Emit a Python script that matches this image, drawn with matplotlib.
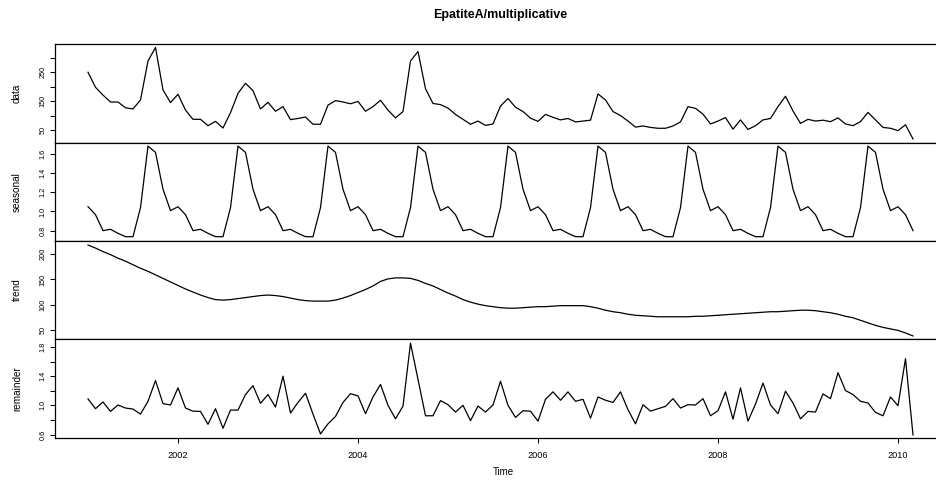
import numpy as np
import matplotlib
matplotlib.use("Agg")
import matplotlib.pyplot as plt

plt.rcParams['font.family'] = ['Liberation Sans', 'DejaVu Sans']

# monthly series, Jan 2001 - Mar 2010
start_year = 2001
n_months = 111

data = [250, 198, 171, 147, 147, 127, 123, 154, 289, 336, 189, 145,
        174, 119, 87, 87, 65, 80, 57, 110, 177, 212, 186, 123,
        146, 115, 131, 86, 90, 95, 70, 70, 136, 152, 147, 141,
        149, 115, 131, 153, 119, 92, 114, 289, 322, 193, 142, 138,
        126, 104, 87, 70, 81, 66, 71, 133, 159, 129, 114, 91,
        80, 104, 94, 85, 90, 78, 81, 84, 175, 154, 114, 100,
        81, 60, 64, 59, 56, 56, 64, 78, 131, 125, 105, 71,
        81, 93, 53, 85, 52, 65, 85, 90, 131, 167, 116, 73,
        87, 81, 84, 79, 92, 71, 65, 79, 111, 85, 59, 56,
        48, 68, 19]

# seasonal factors Jan..Dec (same every year)
season_pattern = [1.05, 0.967, 0.80, 0.814, 0.772, 0.737,
                  0.737, 1.04, 1.683, 1.617, 1.232, 1.009]

trend = [218, 212, 205, 199, 192, 186, 179, 172, 166, 159, 152, 145,
         138, 131, 125, 119, 114, 110, 109, 110, 112, 114, 116, 118,
         119, 118, 116, 113, 110, 108, 107, 107, 107, 109, 113, 118,
         124, 130, 137, 146, 151, 153, 153, 152, 148, 142, 137, 130,
         123, 117, 110, 105, 101, 98, 96, 94, 93, 93, 94, 95,
         96, 96, 97, 98, 98, 98, 98, 96, 93, 89, 86, 84,
         81, 79, 78, 77, 76, 76, 76, 76, 76, 77, 77, 78,
         79, 80, 81, 82, 83, 84, 85, 86, 86, 87, 88, 89,
         89, 88, 86, 84, 81, 77, 74, 69, 64, 59, 55, 52,
         49, 44, 38]

remainder = [1.088, 0.954, 1.046, 0.917, 1.005, 0.963, 0.949, 0.88, 1.055, 1.34, 1.023, 1.005,
             1.24, 0.963, 0.92, 0.917, 0.74, 0.954, 0.686, 0.935, 0.935, 1.148, 1.27, 1.028,
             1.148, 0.977, 1.40, 0.894, 1.04, 1.166, 0.88, 0.608, 0.746, 0.848, 1.04, 1.16,
             1.13, 0.885, 1.115, 1.286, 1.0, 0.815, 0.99, 1.854, 1.355, 0.857, 0.857, 1.065,
             1.009, 0.908, 1.0, 0.79, 0.99, 0.908, 1.005, 1.33, 1.0, 0.834, 0.926, 0.92,
             0.783, 1.083, 1.185, 1.07, 1.185, 1.055, 1.083, 0.825, 1.115, 1.07, 1.04, 1.185,
             0.94, 0.746, 1.009, 0.92, 0.954, 0.986, 1.092, 0.963, 1.009, 1.005, 1.092, 0.857,
             0.926, 1.185, 0.81, 1.24, 0.783, 1.018, 1.305, 1.005, 0.885, 1.194, 1.032, 0.815,
             0.917, 0.908, 1.157, 1.092, 1.448, 1.203, 1.148, 1.055, 1.032, 0.903, 0.857, 1.115,
             0.995, 1.64, 0.594]

panel_names = ["data", "seasonal", "trend", "remainder"]
yticks = {
    "data": [50, 100, 150, 200, 250, 300],
    "seasonal": [0.8, 1.0, 1.2, 1.4, 1.6],
    "trend": [50, 100, 150, 200],
    "remainder": [0.6, 0.8, 1.0, 1.2, 1.4, 1.6, 1.8],
}
yticklabels = {
    "data": ["50", "", "150", "", "250", ""],
    "seasonal": ["0.8", "1.0", "1.2", "1.4", "1.6"],
    "trend": ["50", "100", "150", "200"],
    "remainder": ["0.6", "", "1.0", "", "1.4", "", "1.8"],
}
ylims = {
    "data": (5, 348),
    "seasonal": (0.692, 1.715),
    "trend": (32, 226),
    "remainder": (0.552, 1.91),
}
xticks = [2002, 2004, 2006, 2008, 2010]

t = start_year + np.arange(n_months) / 12.0
seasonal = np.tile(season_pattern, n_months // 12 + 1)[:n_months]
series = {"data": data, "seasonal": seasonal, "trend": trend, "remainder": remainder}

W, H = 937, 480
fig = plt.figure(figsize=(W / 100, H / 100), dpi=100)

span = t[-1] - t[0]
xlim = (t[0] - 0.04 * span, t[-1] + 0.04 * span)

# panel edges in pixels (top, bottom)
left_px, right_px = 55, 946
edges = [(44, 143), (143, 241), (241, 339), (339, 438)]

axes = []
for name, (top, bot) in zip(panel_names, edges):
    ax = fig.add_axes([left_px / W, 1 - bot / H, (right_px - left_px) / W, (bot - top) / H])
    ax.plot(t, series[name], color="black", lw=0.9)
    ax.set_xlim(xlim)
    ax.set_ylim(ylims[name])
    ax.set_yticks(yticks[name])
    ax.set_yticklabels(yticklabels[name], rotation=90, va="center", fontsize=5.3)
    ax.tick_params(axis="y", direction="out", length=3.6, width=0.7, pad=2.5)
    for s in ax.spines.values():
        s.set_linewidth(0.9)
    ax.spines["right"].set_visible(False)
    fig.text(17 / W, 1 - (top + bot) / 2 / H, name, rotation=90,
             ha="center", va="center", fontsize=7.2)
    axes.append(ax)

for ax in axes[:-1]:
    ax.set_xticks([])

axes[-1].set_xticks(xticks)
axes[-1].set_xticklabels([str(x) for x in xticks], fontsize=6.6)
axes[-1].tick_params(axis="x", direction="out", length=3.6, width=0.7, pad=6)

fig.text(503 / W, 1 - 472 / H, "Time", ha="center", va="center", fontsize=7)
fig.text(500 / W, 1 - 15 / H, "EpatiteA/multiplicative", ha="center", va="center",
         fontsize=9, fontweight="bold")

fig.savefig("out.png", dpi=100)
